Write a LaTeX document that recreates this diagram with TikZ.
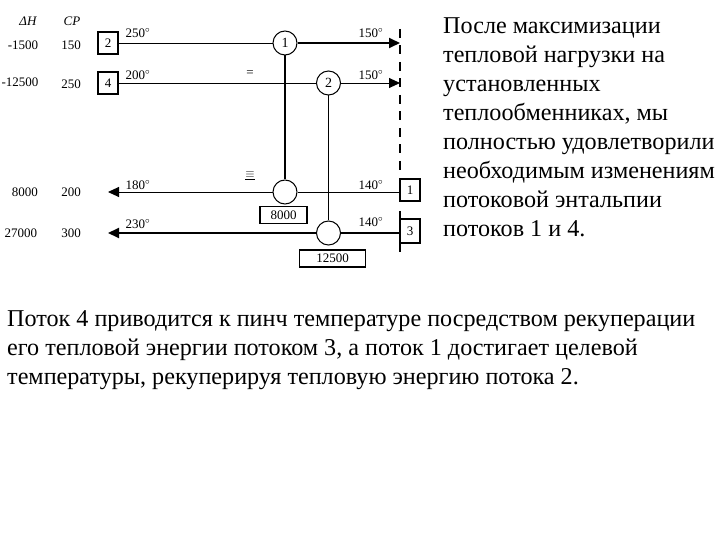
\documentclass[tikz,border=0pt]{standalone}
\usepackage{fontspec}
\setmainfont{Liberation Serif}
\usepackage{xcolor}
\usetikzlibrary{arrows.meta,positioning}

\begin{document}
\begin{tikzpicture}[
    x=1pt, y=-1pt,
    streambox/.style={rectangle, draw, line width=1.3pt, minimum width=20pt, minimum height=22pt, inner sep=0pt, font=\fontsize{13}{13}\selectfont},
    loadbox/.style={rectangle, draw, line width=1.1pt, minimum height=17pt, inner sep=0pt, font=\fontsize{13}{13}\selectfont},
    exch/.style={circle, draw, fill=white, line width=1pt, minimum size=24pt, inner sep=0pt, font=\fontsize{14}{14}\selectfont},
    lbl/.style={inner sep=0pt, font=\fontsize{13}{13}\selectfont},
    para/.style={inner sep=0pt, anchor=north west, align=left, font=\fontsize{24.15}{29}\selectfont},
    arrow/.style={-{Stealth[length=11pt,width=10pt,inset=0pt]}, line width=0.9pt},
    thickarrow/.style={-{Stealth[length=11pt,width=10pt,inset=0pt]}, line width=1.8pt},
    thinline/.style={line width=0.9pt},
    thickline/.style={line width=1.8pt}
]
\useasboundingbox (0,0) rectangle (720,540);

% Column heads
\node[lbl, font=\fontsize{13}{13}\itshape] (dh) at (28,21) {ΔH};
\node[lbl, font=\fontsize{13}{13}\itshape] (cp) at (72,21) {CP};

% Left column values
\node[lbl] (dh2) at (23,45) {-1500};
\node[lbl] (cp2) at (71,45) {150};
\node[lbl] (dh4) at (20,82) {-12500};
\node[lbl] (cp4) at (71,84) {250};
\node[lbl] (dh1) at (25,192) {8000};
\node[lbl] (cp1) at (71,192) {200};
\node[lbl] (dh3) at (21,233) {27000};
\node[lbl] (cp3) at (71,233) {300};

% Stream boxes
\node[streambox] (s2) at (108,43) {2};
\node[streambox] (s4) at (108,83) {4};
\node[streambox] (s1) at (410,190) {1};
\node[streambox, minimum height=24pt] (s3) at (410,231) {3};

% Exchangers
\node[exch] (hx1) at (285,43) {1};
\node[exch] (hx2) at (328.5,83) {2};
\node[exch] (c1) at (285,192) {};
\node[exch] (c2) at (328.5,233) {};

% Load boxes
\node[loadbox, minimum width=47pt] (q1) at (283.5,215) {8000};
\node[loadbox, minimum width=66pt] (q2) at (332.5,258.5) {12500};

% Free ends
\coordinate (end2) at (400,43);
\coordinate (end4) at (400,83);
\coordinate (end1) at (108,192);
\coordinate (end3) at (108,233);
\coordinate (pinchtop) at (400,29);
\coordinate (pinchbot) at (400,170);
\coordinate (bartop) at (400,211);
\coordinate (barbot) at (400,252);

% Pinch line
\draw[line width=1.6pt, dash pattern=on 9pt off 7.5pt] (pinchtop) -- (pinchbot);
\draw[line width=1.3pt] (bartop) -- (barbot);

% Streams
\draw[thinline] (s2) -- (hx1);
\draw[thickarrow] (hx1) -- (end2);
\draw[thinline] (s4) -- (hx2);
\draw[arrow] (hx2) -- (end4);
\draw[thinline] (s1.west |- c1) -- (c1);
\draw[arrow] (c1) -- (end1);
\draw[thickline] (s3.west |- c2) -- (c2);
\draw[thickarrow] (c2) -- (end3);

% Matches
\draw[thickline] (hx1) -- (c1);
\draw[thinline] (hx2) -- (c2);

% Temperatures
\node[lbl] (t250) at (138,33) {250$^{\circ}$};
\node[lbl] (t200) at (138,75) {200$^{\circ}$};
\node[lbl] (t180) at (138,185) {180$^{\circ}$};
\node[lbl] (t230) at (138,224) {230$^{\circ}$};
\node[lbl] (t150a) at (371,33) {150$^{\circ}$};
\node[lbl] (t150b) at (371,75) {150$^{\circ}$};
\node[lbl] (t140a) at (371,185) {140$^{\circ}$};
\node[lbl] (t140b) at (371,222) {140$^{\circ}$};

% Match marks
\node[lbl] (mark2) at (250,74) {=};
\node[lbl] (mark3) at (250,176) {$\underline{\equiv}$};

% Text
\node[para] (side) at (443,17) {После максимизации\\тепловой нагрузки на\\установленных\\теплообменниках, мы\\полностью удовлетворили\\необходимым изменениям\\потоковой энтальпии\\потоков 1 и 4.};
\node[para] (bottom) at (7,310) {Поток 4 приводится к пинч температуре посредством рекуперации\\его тепловой энергии потоком 3, а поток 1 достигает целевой\\температуры, рекуперируя тепловую энергию потока 2.};

\end{tikzpicture}
\end{document}
